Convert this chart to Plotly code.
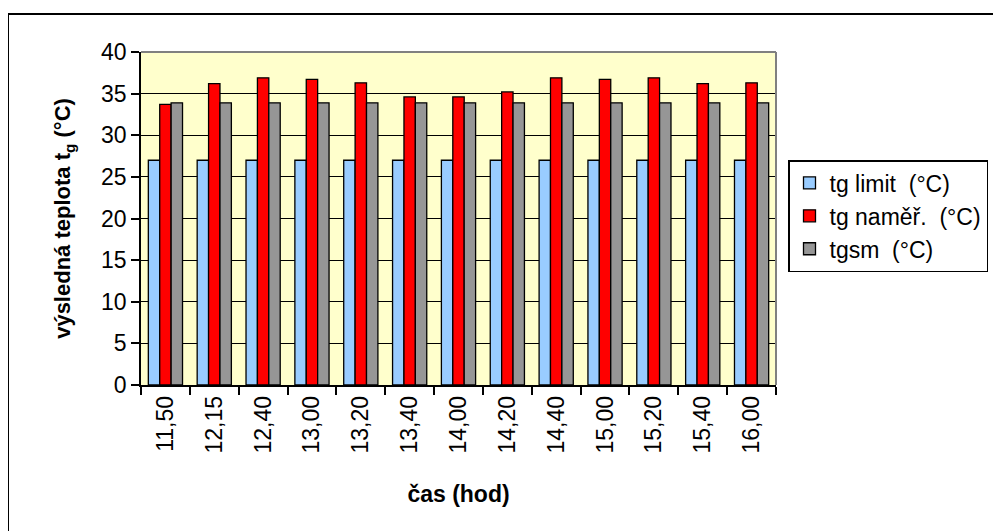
import plotly.graph_objects as go

categories = ["11,50", "12,15", "12,40", "13,00", "13,20", "13,40", "14,00",
              "14,20", "14,40", "15,00", "15,20", "15,40", "16,00"]
tg_limit = [27.0] * 13
tg_namer = [33.7, 36.2, 36.9, 36.7, 36.3, 34.6, 34.6, 35.2, 36.9, 36.7, 36.9, 36.2, 36.3]
tgsm = [33.9] * 13

series_names = ["tg limit  (°C)", "tg naměř.  (°C)", "tgsm  (°C)"]
series_colors = ["#99CCFF", "#FF0000", "#969696"]

FONT = "Liberation Sans, Arial, sans-serif"
FS = 23

# figure is drawn with an 8px page offset -> plot area in figure coords
L, T = 133, 44
PW, PH = 635, 333
W, H = 993, 523

fig = go.Figure()
for i, (name, vals, col) in enumerate(zip(series_names, [tg_limit, tg_namer, tgsm], series_colors)):
    fig.add_trace(go.Bar(
        x=categories, y=vals, name=name, legendgroup=f"g{i}",
        marker=dict(color=col, line=dict(color="black", width=1.3)),
    ))

fig.update_layout(
    width=W, height=H,
    margin=dict(l=L, r=W - L - PW, t=T, b=H - T - PH, autoexpand=False),
    paper_bgcolor="white",
    plot_bgcolor="#FFFFCC",
    barmode="group",
    bargap=0.30,
    bargroupgap=0,
    font=dict(family=FONT, size=FS, color="black"),
    showlegend=True,
    legend=dict(
        x=(788 - 8 - L) / PW, y=(T + PH - (160 - 8)) / PH, xanchor="left", yanchor="top",
        bordercolor="black", borderwidth=1.5, bgcolor="white",
        font=dict(family=FONT, size=FS, color="black"),
        traceorder="grouped", tracegroupgap=0,
        itemwidth=30,
    ),
    xaxis=dict(
        type="category",
        tickangle=-90,
        ticks="outside", tickson="boundaries", ticklen=8, tickcolor="black", tickwidth=1.5,
        showline=True, linecolor="black", linewidth=1.5,
        showgrid=False,
        tickfont=dict(family=FONT, size=FS),
        title=dict(text="<b>čas (hod)</b>", font=dict(family=FONT, size=FS), standoff=33),
    ),
    yaxis=dict(
        range=[0, 40], dtick=5,
        ticks="outside", ticklen=8, tickcolor="black", tickwidth=1.5,
        showline=True, linecolor="black", linewidth=1.5,
        showgrid=True, gridcolor="black", gridwidth=1,
        zeroline=False,
        tickfont=dict(family=FONT, size=FS),
        title=dict(text="<b>výsledná teplota t<sub>g</sub> (°C)</b>", font=dict(family=FONT, size=22), standoff=24),
    ),
)

# gray top/right plot-area border
fig.add_shape(type="line", xref="paper", yref="paper", x0=0, x1=1, y0=1, y1=1,
              line=dict(color="#808080", width=2))
fig.add_shape(type="line", xref="paper", yref="paper", x0=1, x1=1, y0=0, y1=1,
              line=dict(color="#808080", width=2))
# outer chart border (left and top visible)
fig.add_shape(type="rect", xref="paper", yref="paper",
              x0=(0 - L) / PW, x1=(W + 20 - L) / PW,
              y0=(T + PH - (H + 20)) / PH, y1=(T + PH - 6) / PH,
              line=dict(color="black", width=2), layer="below")

fig.write_html("out.html")
